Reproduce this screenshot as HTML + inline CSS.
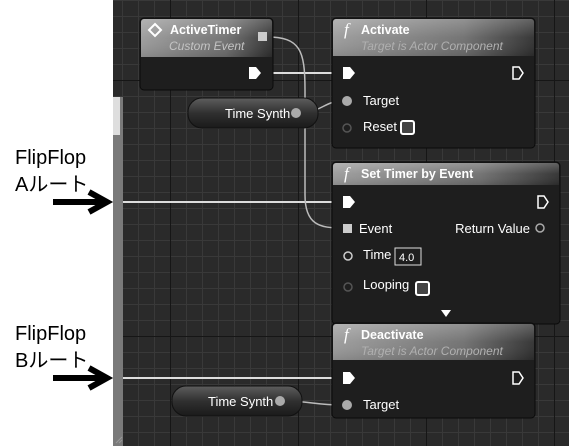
<!DOCTYPE html>
<html><head><meta charset="utf-8"><style>
html,body{margin:0;padding:0;background:#fff;width:569px;height:446px;overflow:hidden}
svg{display:block}
.t{font-family:"Liberation Sans","DejaVu Sans",sans-serif}
</style></head><body>
<svg width="569" height="446" viewBox="0 0 569 446" xmlns="http://www.w3.org/2000/svg">
<defs>
<pattern id="minor" x="10" y="0" width="16" height="16" patternUnits="userSpaceOnUse">
<rect width="16" height="16" fill="#2a2a2a"/>
<rect width="1" height="16" fill="#393939"/><rect width="16" height="1" fill="#393939"/>
</pattern>
<linearGradient id="hv" x1="0" y1="0" x2="0" y2="1">
<stop offset="0" stop-color="#fff" stop-opacity="0.25"/><stop offset="0.5" stop-color="#fff" stop-opacity="0.05"/><stop offset="1" stop-color="#000" stop-opacity="0.1"/></linearGradient>
<linearGradient id="hdr2" x1="0" y1="0" x2="1" y2="0">
<stop offset="0" stop-color="#9a9a9a"/><stop offset="0.65" stop-color="#6e6e6e"/><stop offset="1" stop-color="#2e2e2e"/></linearGradient>
<linearGradient id="pill" x1="0" y1="0" x2="0" y2="1">
<stop offset="0" stop-color="#5e5e5e"/><stop offset="0.5" stop-color="#303030"/><stop offset="1" stop-color="#1a1a1a"/></linearGradient>
</defs>
<rect x="113" y="0" width="456" height="446" fill="url(#minor)"/>
<g fill="#161616">
<rect x="170" y="0" width="1" height="446"/><rect x="298" y="0" width="1" height="446"/>
<rect x="426" y="0" width="1" height="446"/><rect x="554" y="0" width="1" height="446"/>
<rect x="113" y="80" width="456" height="1"/><rect x="113" y="336" width="456" height="1"/>
</g>
<rect x="113" y="97" width="10" height="349" fill="#7a7a7a"/>
<rect x="113" y="97" width="7" height="38" fill="#dedede"/>
<g stroke="#999" stroke-width="1"><line x1="116" y1="443" x2="122" y2="437"/><line x1="119" y1="443" x2="122" y2="440"/></g>

<g fill="none" stroke="#ddd" stroke-width="2">
<line x1="123" y1="202" x2="340" y2="202"/>
<line x1="123" y1="378" x2="340" y2="378"/>
<line x1="262" y1="73" x2="340" y2="73"/>
</g>
<g fill="none" stroke="#bbb" stroke-width="1.5">
<path d="M267 37 C300 37 305 50 305 90 L305 195 C305 225 320 228 342 228"/>
<path d="M300 113 C320 113 325 101 342 101"/>
<path d="M284 401 C310 401 315 405 342 405"/>
</g>

<!-- ActiveTimer -->
<rect x="140" y="18" width="133" height="72" rx="4" fill="#1e1e1e" stroke="#0a0a0a"/>
<path d="M144 19 h125 a3 3 0 0 1 3 3 v35 h-131 v-35 a3 3 0 0 1 3 -3z" fill="url(#hdr2)"/>
<path d="M144 19 h125 a3 3 0 0 1 3 3 v35 h-131 v-35 a3 3 0 0 1 3 -3z" fill="url(#hv)"/>
<path d="M155 24 l6 6 l-6 6 l-6 -6z" fill="none" stroke="#fff" stroke-width="2"/>
<text x="170" y="34" class="t" font-size="12.5" font-weight="bold" fill="#fff">ActiveTimer</text>
<text x="169" y="50" class="t" font-size="12" font-style="italic" fill="#c4c4c4">Custom Event</text>
<rect x="258" y="32" width="9" height="9" fill="#ccc"/>
<path d="M249 67 h7 l5 6 l-5 6 h-7z" fill="#fff"/>

<rect x="188" y="98" width="130" height="30" rx="14" fill="url(#pill)" stroke="#111"/>
<text x="225" y="118" class="t" font-size="13" fill="#fff">Time Synth</text>
<circle cx="296" cy="113" r="5" fill="#aaa"/>

<!-- Activate -->
<rect x="332" y="18" width="203" height="130" rx="4" fill="#1e1e1e" stroke="#0a0a0a"/>
<path d="M336 19 h195 a3 3 0 0 1 3 3 v34 h-201 v-34 a3 3 0 0 1 3 -3z" fill="url(#hdr2)"/>
<path d="M336 19 h195 a3 3 0 0 1 3 3 v34 h-201 v-34 a3 3 0 0 1 3 -3z" fill="url(#hv)"/>
<text x="344" y="35" font-family="Liberation Serif,serif" font-style="italic" font-size="17" fill="#fff">f</text>
<text x="361" y="34" class="t" font-size="12.5" font-weight="bold" fill="#fff">Activate</text>
<text x="361" y="50" class="t" font-size="12" font-style="italic" fill="#b0b0b0">Target is Actor Component</text>
<path d="M343 67 h7 l5 6 l-5 6 h-7z" fill="#fff"/>
<path d="M513 67 h6 l4 6 l-4 6 h-6z" fill="none" stroke="#fff" stroke-width="1.5"/>
<circle cx="347" cy="101" r="5" fill="#aaa"/>
<text x="363" y="105" class="t" font-size="13" fill="#fff">Target</text>
<circle cx="347" cy="128" r="4" fill="none" stroke="#555" stroke-width="1.5"/>
<text x="363" y="131" class="t" font-size="13" fill="#fff">Reset</text>
<rect x="401" y="121" width="13" height="13" rx="2" fill="#444" stroke="#fff" stroke-width="2"/>

<!-- Set Timer -->
<rect x="332" y="162" width="228" height="162" rx="4" fill="#1e1e1e" stroke="#0a0a0a"/>
<path d="M336 163 h220 a3 3 0 0 1 3 3 v19 h-226 v-19 a3 3 0 0 1 3 -3z" fill="url(#hdr2)"/>
<path d="M336 163 h220 a3 3 0 0 1 3 3 v19 h-226 v-19 a3 3 0 0 1 3 -3z" fill="url(#hv)"/>
<text x="344" y="179" font-family="Liberation Serif,serif" font-style="italic" font-size="17" fill="#fff">f</text>
<text x="361" y="178" class="t" font-size="12.5" font-weight="bold" fill="#fff">Set Timer by Event</text>
<path d="M343 196 h7 l5 6 l-5 6 h-7z" fill="#fff"/>
<path d="M538 196 h6 l4 6 l-4 6 h-6z" fill="none" stroke="#fff" stroke-width="1.5"/>
<rect x="343" y="224" width="9" height="9" fill="#ccc"/>
<text x="359" y="233" class="t" font-size="13" fill="#fff">Event</text>
<text x="530" y="233" class="t" font-size="13" fill="#fff" text-anchor="end">Return Value</text>
<circle cx="540" cy="228" r="4" fill="none" stroke="#aaa" stroke-width="1.5"/>
<circle cx="348" cy="256" r="4" fill="none" stroke="#ccc" stroke-width="1.5"/>
<text x="363" y="259" class="t" font-size="13" fill="#fff">Time</text>
<rect x="395" y="248" width="26" height="17" fill="#1e1e1e" stroke="#ddd"/>
<text x="399" y="261" class="t" font-size="11" fill="#fff">4.0</text>
<circle cx="348" cy="287" r="4" fill="none" stroke="#555" stroke-width="1.5"/>
<text x="363" y="289" class="t" font-size="13" fill="#fff">Looping</text>
<rect x="416" y="282" width="13" height="13" rx="2" fill="#444" stroke="#fff" stroke-width="2"/>
<path d="M441 310 h10 l-5 7z" fill="#fff"/>

<!-- Deactivate -->
<rect x="332" y="323" width="203" height="95" rx="4" fill="#1e1e1e" stroke="#0a0a0a"/>
<path d="M336 324 h195 a3 3 0 0 1 3 3 v33 h-201 v-33 a3 3 0 0 1 3 -3z" fill="url(#hdr2)"/>
<path d="M336 324 h195 a3 3 0 0 1 3 3 v33 h-201 v-33 a3 3 0 0 1 3 -3z" fill="url(#hv)"/>
<text x="344" y="340" font-family="Liberation Serif,serif" font-style="italic" font-size="17" fill="#fff">f</text>
<text x="361" y="339" class="t" font-size="12.5" font-weight="bold" fill="#fff">Deactivate</text>
<text x="361" y="355" class="t" font-size="12" font-style="italic" fill="#b0b0b0">Target is Actor Component</text>
<path d="M343 372 h7 l5 6 l-5 6 h-7z" fill="#fff"/>
<path d="M513 372 h6 l4 6 l-4 6 h-6z" fill="none" stroke="#fff" stroke-width="1.5"/>
<circle cx="347" cy="405" r="5" fill="#aaa"/>
<text x="363" y="409" class="t" font-size="13" fill="#fff">Target</text>

<rect x="172" y="386" width="130" height="30" rx="14" fill="url(#pill)" stroke="#111"/>
<text x="208" y="406" class="t" font-size="13" fill="#fff">Time Synth</text>
<circle cx="280" cy="401" r="5" fill="#aaa"/>

<g font-family="'Liberation Sans','Noto Sans CJK JP',sans-serif" font-size="20" fill="#000">
<text x="15" y="164">FlipFlop</text>
<text x="15" y="191">Aルート</text>
<text x="15" y="340">FlipFlop</text>
<text x="15" y="367">Bルート</text>
</g>
<g stroke="#000" stroke-width="6" fill="none">
<line x1="53" y1="202" x2="106" y2="202"/>
<polyline points="89,192 107,202 89,212"/>
<line x1="53" y1="378" x2="106" y2="378"/>
<polyline points="89,368 107,378 89,388"/>
</g>
</svg>
</body></html>
